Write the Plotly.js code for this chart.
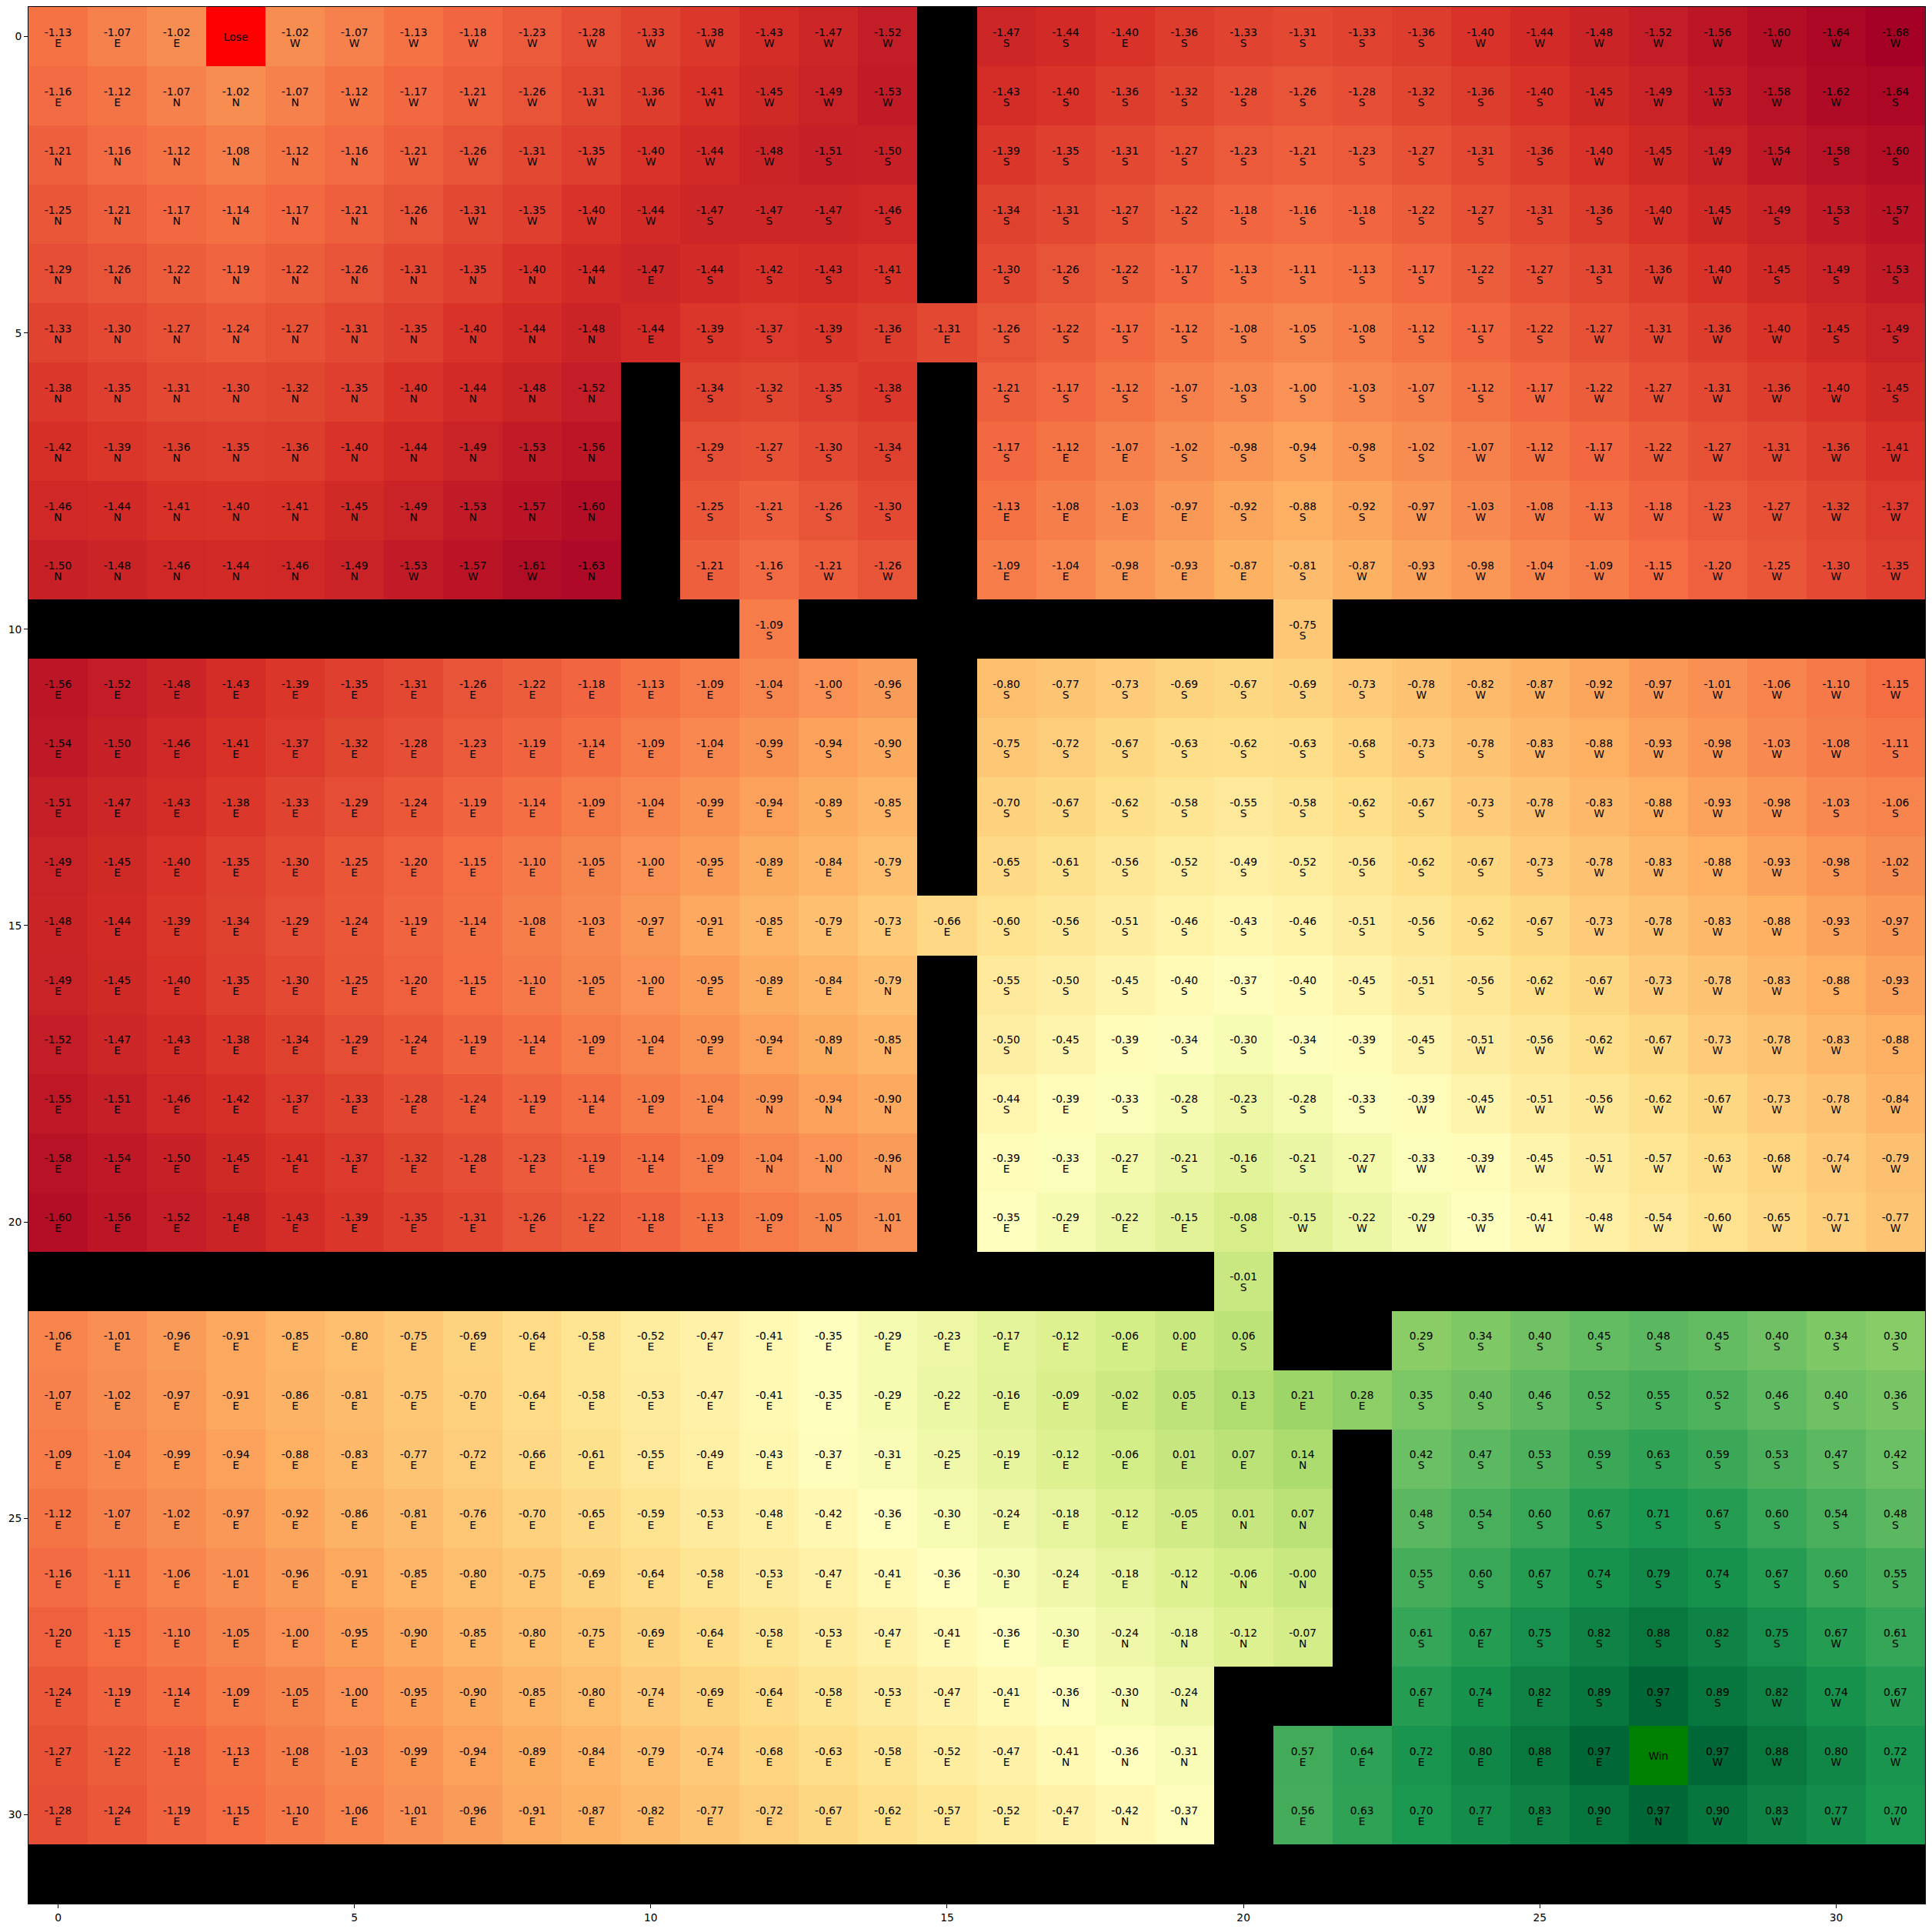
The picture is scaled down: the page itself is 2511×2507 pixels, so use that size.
<!DOCTYPE html>
<html>
<head>
<meta charset="utf-8">
<script src="https://cdn.plot.ly/plotly-3.0.1.min.js"></script>
<style>
  html, body { margin: 0; padding: 0; background: #ffffff; }
  #chart { width: 2511px; height: 2507px; }
</style>
</head>
<body>
<div id="chart"></div>
<script>
const _ = null;

// State values (row by row, 32 rows x 32 columns); null = wall or special cell
const values = [
  [-1.13,-1.07,-1.02,_,-1.02,-1.07,-1.13,-1.18,-1.23,-1.28,-1.33,-1.38,-1.43,-1.47,-1.52,_,-1.47,-1.44,-1.40,-1.36,-1.33,-1.31,-1.33,-1.36,-1.40,-1.44,-1.48,-1.52,-1.56,-1.60,-1.64,-1.68],
  [-1.16,-1.12,-1.07,-1.02,-1.07,-1.12,-1.17,-1.21,-1.26,-1.31,-1.36,-1.41,-1.45,-1.49,-1.53,_,-1.43,-1.40,-1.36,-1.32,-1.28,-1.26,-1.28,-1.32,-1.36,-1.40,-1.45,-1.49,-1.53,-1.58,-1.62,-1.64],
  [-1.21,-1.16,-1.12,-1.08,-1.12,-1.16,-1.21,-1.26,-1.31,-1.35,-1.40,-1.44,-1.48,-1.51,-1.50,_,-1.39,-1.35,-1.31,-1.27,-1.23,-1.21,-1.23,-1.27,-1.31,-1.36,-1.40,-1.45,-1.49,-1.54,-1.58,-1.60],
  [-1.25,-1.21,-1.17,-1.14,-1.17,-1.21,-1.26,-1.31,-1.35,-1.40,-1.44,-1.47,-1.47,-1.47,-1.46,_,-1.34,-1.31,-1.27,-1.22,-1.18,-1.16,-1.18,-1.22,-1.27,-1.31,-1.36,-1.40,-1.45,-1.49,-1.53,-1.57],
  [-1.29,-1.26,-1.22,-1.19,-1.22,-1.26,-1.31,-1.35,-1.40,-1.44,-1.47,-1.44,-1.42,-1.43,-1.41,_,-1.30,-1.26,-1.22,-1.17,-1.13,-1.11,-1.13,-1.17,-1.22,-1.27,-1.31,-1.36,-1.40,-1.45,-1.49,-1.53],
  [-1.33,-1.30,-1.27,-1.24,-1.27,-1.31,-1.35,-1.40,-1.44,-1.48,-1.44,-1.39,-1.37,-1.39,-1.36,-1.31,-1.26,-1.22,-1.17,-1.12,-1.08,-1.05,-1.08,-1.12,-1.17,-1.22,-1.27,-1.31,-1.36,-1.40,-1.45,-1.49],
  [-1.38,-1.35,-1.31,-1.30,-1.32,-1.35,-1.40,-1.44,-1.48,-1.52,_,-1.34,-1.32,-1.35,-1.38,_,-1.21,-1.17,-1.12,-1.07,-1.03,-1.00,-1.03,-1.07,-1.12,-1.17,-1.22,-1.27,-1.31,-1.36,-1.40,-1.45],
  [-1.42,-1.39,-1.36,-1.35,-1.36,-1.40,-1.44,-1.49,-1.53,-1.56,_,-1.29,-1.27,-1.30,-1.34,_,-1.17,-1.12,-1.07,-1.02,-0.98,-0.94,-0.98,-1.02,-1.07,-1.12,-1.17,-1.22,-1.27,-1.31,-1.36,-1.41],
  [-1.46,-1.44,-1.41,-1.40,-1.41,-1.45,-1.49,-1.53,-1.57,-1.60,_,-1.25,-1.21,-1.26,-1.30,_,-1.13,-1.08,-1.03,-0.97,-0.92,-0.88,-0.92,-0.97,-1.03,-1.08,-1.13,-1.18,-1.23,-1.27,-1.32,-1.37],
  [-1.50,-1.48,-1.46,-1.44,-1.46,-1.49,-1.53,-1.57,-1.61,-1.63,_,-1.21,-1.16,-1.21,-1.26,_,-1.09,-1.04,-0.98,-0.93,-0.87,-0.81,-0.87,-0.93,-0.98,-1.04,-1.09,-1.15,-1.20,-1.25,-1.30,-1.35],
  [_,_,_,_,_,_,_,_,_,_,_,_,-1.09,_,_,_,_,_,_,_,_,-0.75,_,_,_,_,_,_,_,_,_,_],
  [-1.56,-1.52,-1.48,-1.43,-1.39,-1.35,-1.31,-1.26,-1.22,-1.18,-1.13,-1.09,-1.04,-1.00,-0.96,_,-0.80,-0.77,-0.73,-0.69,-0.67,-0.69,-0.73,-0.78,-0.82,-0.87,-0.92,-0.97,-1.01,-1.06,-1.10,-1.15],
  [-1.54,-1.50,-1.46,-1.41,-1.37,-1.32,-1.28,-1.23,-1.19,-1.14,-1.09,-1.04,-0.99,-0.94,-0.90,_,-0.75,-0.72,-0.67,-0.63,-0.62,-0.63,-0.68,-0.73,-0.78,-0.83,-0.88,-0.93,-0.98,-1.03,-1.08,-1.11],
  [-1.51,-1.47,-1.43,-1.38,-1.33,-1.29,-1.24,-1.19,-1.14,-1.09,-1.04,-0.99,-0.94,-0.89,-0.85,_,-0.70,-0.67,-0.62,-0.58,-0.55,-0.58,-0.62,-0.67,-0.73,-0.78,-0.83,-0.88,-0.93,-0.98,-1.03,-1.06],
  [-1.49,-1.45,-1.40,-1.35,-1.30,-1.25,-1.20,-1.15,-1.10,-1.05,-1.00,-0.95,-0.89,-0.84,-0.79,_,-0.65,-0.61,-0.56,-0.52,-0.49,-0.52,-0.56,-0.62,-0.67,-0.73,-0.78,-0.83,-0.88,-0.93,-0.98,-1.02],
  [-1.48,-1.44,-1.39,-1.34,-1.29,-1.24,-1.19,-1.14,-1.08,-1.03,-0.97,-0.91,-0.85,-0.79,-0.73,-0.66,-0.60,-0.56,-0.51,-0.46,-0.43,-0.46,-0.51,-0.56,-0.62,-0.67,-0.73,-0.78,-0.83,-0.88,-0.93,-0.97],
  [-1.49,-1.45,-1.40,-1.35,-1.30,-1.25,-1.20,-1.15,-1.10,-1.05,-1.00,-0.95,-0.89,-0.84,-0.79,_,-0.55,-0.50,-0.45,-0.40,-0.37,-0.40,-0.45,-0.51,-0.56,-0.62,-0.67,-0.73,-0.78,-0.83,-0.88,-0.93],
  [-1.52,-1.47,-1.43,-1.38,-1.34,-1.29,-1.24,-1.19,-1.14,-1.09,-1.04,-0.99,-0.94,-0.89,-0.85,_,-0.50,-0.45,-0.39,-0.34,-0.30,-0.34,-0.39,-0.45,-0.51,-0.56,-0.62,-0.67,-0.73,-0.78,-0.83,-0.88],
  [-1.55,-1.51,-1.46,-1.42,-1.37,-1.33,-1.28,-1.24,-1.19,-1.14,-1.09,-1.04,-0.99,-0.94,-0.90,_,-0.44,-0.39,-0.33,-0.28,-0.23,-0.28,-0.33,-0.39,-0.45,-0.51,-0.56,-0.62,-0.67,-0.73,-0.78,-0.84],
  [-1.58,-1.54,-1.50,-1.45,-1.41,-1.37,-1.32,-1.28,-1.23,-1.19,-1.14,-1.09,-1.04,-1.00,-0.96,_,-0.39,-0.33,-0.27,-0.21,-0.16,-0.21,-0.27,-0.33,-0.39,-0.45,-0.51,-0.57,-0.63,-0.68,-0.74,-0.79],
  [-1.60,-1.56,-1.52,-1.48,-1.43,-1.39,-1.35,-1.31,-1.26,-1.22,-1.18,-1.13,-1.09,-1.05,-1.01,_,-0.35,-0.29,-0.22,-0.15,-0.08,-0.15,-0.22,-0.29,-0.35,-0.41,-0.48,-0.54,-0.60,-0.65,-0.71,-0.77],
  [_,_,_,_,_,_,_,_,_,_,_,_,_,_,_,_,_,_,_,_,-0.01,_,_,_,_,_,_,_,_,_,_,_],
  [-1.06,-1.01,-0.96,-0.91,-0.85,-0.80,-0.75,-0.69,-0.64,-0.58,-0.52,-0.47,-0.41,-0.35,-0.29,-0.23,-0.17,-0.12,-0.06,0.00,0.06,_,_,0.29,0.34,0.40,0.45,0.48,0.45,0.40,0.34,0.30],
  [-1.07,-1.02,-0.97,-0.91,-0.86,-0.81,-0.75,-0.70,-0.64,-0.58,-0.53,-0.47,-0.41,-0.35,-0.29,-0.22,-0.16,-0.09,-0.02,0.05,0.13,0.21,0.28,0.35,0.40,0.46,0.52,0.55,0.52,0.46,0.40,0.36],
  [-1.09,-1.04,-0.99,-0.94,-0.88,-0.83,-0.77,-0.72,-0.66,-0.61,-0.55,-0.49,-0.43,-0.37,-0.31,-0.25,-0.19,-0.12,-0.06,0.01,0.07,0.14,_,0.42,0.47,0.53,0.59,0.63,0.59,0.53,0.47,0.42],
  [-1.12,-1.07,-1.02,-0.97,-0.92,-0.86,-0.81,-0.76,-0.70,-0.65,-0.59,-0.53,-0.48,-0.42,-0.36,-0.30,-0.24,-0.18,-0.12,-0.05,0.01,0.07,_,0.48,0.54,0.60,0.67,0.71,0.67,0.60,0.54,0.48],
  [-1.16,-1.11,-1.06,-1.01,-0.96,-0.91,-0.85,-0.80,-0.75,-0.69,-0.64,-0.58,-0.53,-0.47,-0.41,-0.36,-0.30,-0.24,-0.18,-0.12,-0.06,-0.00,_,0.55,0.60,0.67,0.74,0.79,0.74,0.67,0.60,0.55],
  [-1.20,-1.15,-1.10,-1.05,-1.00,-0.95,-0.90,-0.85,-0.80,-0.75,-0.69,-0.64,-0.58,-0.53,-0.47,-0.41,-0.36,-0.30,-0.24,-0.18,-0.12,-0.07,_,0.61,0.67,0.75,0.82,0.88,0.82,0.75,0.67,0.61],
  [-1.24,-1.19,-1.14,-1.09,-1.05,-1.00,-0.95,-0.90,-0.85,-0.80,-0.74,-0.69,-0.64,-0.58,-0.53,-0.47,-0.41,-0.36,-0.30,-0.24,_,_,_,0.67,0.74,0.82,0.89,0.97,0.89,0.82,0.74,0.67],
  [-1.27,-1.22,-1.18,-1.13,-1.08,-1.03,-0.99,-0.94,-0.89,-0.84,-0.79,-0.74,-0.68,-0.63,-0.58,-0.52,-0.47,-0.41,-0.36,-0.31,_,0.57,0.64,0.72,0.80,0.88,0.97,_,0.97,0.88,0.80,0.72],
  [-1.28,-1.24,-1.19,-1.15,-1.10,-1.06,-1.01,-0.96,-0.91,-0.87,-0.82,-0.77,-0.72,-0.67,-0.62,-0.57,-0.52,-0.47,-0.42,-0.37,_,0.56,0.63,0.70,0.77,0.83,0.90,0.97,0.90,0.83,0.77,0.70],
  [_,_,_,_,_,_,_,_,_,_,_,_,_,_,_,_,_,_,_,_,_,_,_,_,_,_,_,_,_,_,_,_]
];

// Greedy policy per cell: N/S/E/W, '#' = wall, '*' = terminal cell
const policy = [
  "EEE*WWWWWWWWWWW#SSESSSSSWWWWWWWW",
  "EENNNWWWWWWWWWW#SSSSSSSSSSWWWWWS",
  "NNNNNNWWWWWWWSS#SSSSSSSSSSWWWWSS",
  "NNNNNNNWWWWSSSS#SSSSSSSSSSSWWSSS",
  "NNNNNNNNNNESSSS#SSSSSSSSSSSWWSSS",
  "NNNNNNNNNNESSSEESSSSSSSSSSWWWWSS",
  "NNNNNNNNNN#SSSS#SSSSSSSSSWWWWWWS",
  "NNNNNNNNNN#SSSS#SEESSSSSWWWWWWWW",
  "NNNNNNNNNN#SSSS#EEEESSSWWWWWWWWW",
  "NNNNNNWWWN#ESWW#EEEEESWWWWWWWWWW",
  "############S########S##########",
  "EEEEEEEEEEEESSS#SSSSSSSWWWWWWWWW",
  "EEEEEEEEEEEESSS#SSSSSSSSSWWWWWWS",
  "EEEEEEEEEEEEESS#SSSSSSSSSWWWWWSS",
  "EEEEEEEEEEEEEES#SSSSSSSSSSWWWWSS",
  "EEEEEEEEEEEEEEEESSSSSSSSSSWWWWSS",
  "EEEEEEEEEEEEEEN#SSSSSSSSSWWWWWSS",
  "EEEEEEEEEEEEENN#SSSSSSSSWWWWWWWS",
  "EEEEEEEEEEEENNN#SESSSSSWWWWWWWWW",
  "EEEEEEEEEEEENNN#EEESSSWWWWWWWWWW",
  "EEEEEEEEEEEEENN#EEEESWWWWWWWWWWW",
  "####################S###########",
  "EEEEEEEEEEEEEEEEEEEES##SSSSSSSSS",
  "EEEEEEEEEEEEEEEEEEEEEEESSSSSSSSS",
  "EEEEEEEEEEEEEEEEEEEEEN#SSSSSSSSS",
  "EEEEEEEEEEEEEEEEEEEENN#SSSSSSSSS",
  "EEEEEEEEEEEEEEEEEEENNN#SSSSSSSSS",
  "EEEEEEEEEEEEEEEEEENNNN#SESSSSSWS",
  "EEEEEEEEEEEEEEEEENNN###EEESSSWWW",
  "EEEEEEEEEEEEEEEEENNN#EEEEEE*WWWW",
  "EEEEEEEEEEEEEEEEEENN#EEEEEENWWWW",
  "################################"
];

// Terminal cells
const specialRows   = [0, 29];
const specialCols   = [3, 27];
const specialLabels = ["Lose", "Win"];
const specialKinds  = [0, 1];   // 0 = lose colour, 1 = win colour

const xTicks = [0, 5, 10, 15, 20, 25, 30];
const yTicks = [0, 5, 10, 15, 20, 25, 30];

// ---- sanity checks
values.forEach((r, i) => { if (r.length !== 32) throw new Error("values row " + i + " has " + r.length); });
policy.forEach((r, i) => { if (r.length !== 32) throw new Error("policy row " + i + " has " + r.length); });

const nRows = values.length, nCols = values[0].length;
const colIdx = Array.from({length: nCols}, (_v, i) => i);
const rowIdx = Array.from({length: nRows}, (_v, i) => i);

const fmt = v => (Object.is(v, -0) ? "-0.00" : v.toFixed(2));

const vx = [], vy = [], vt = [], lx = [], ly = [], lt = [];
const VALUE_DY = -0.055, LETTER_DY = 0.127;
for (let r = 0; r < nRows; r++) {
  for (let c = 0; c < nCols; c++) {
    const v = values[r][c];
    if (v === null) continue;
    vx.push(c); vy.push(r + VALUE_DY); vt.push(fmt(v));
    lx.push(c); ly.push(r + LETTER_DY); lt.push(policy[r][c]);
  }
}

const specialZ = rowIdx.map(() => colIdx.map(() => null));
specialRows.forEach((r, i) => { specialZ[r][specialCols[i]] = specialKinds[i]; });

const rdylgn = [
  [0.0, '#a50026'], [0.1, '#d73027'], [0.2, '#f46d43'], [0.3, '#fdae61'],
  [0.4, '#fee08b'], [0.5, '#ffffbf'], [0.6, '#d9ef8b'], [0.7, '#a6d96a'],
  [0.8, '#66bd63'], [0.9, '#1a9850'], [1.0, '#006837']
];

const flat = values.flat().filter(v => v !== null);
const zmin = Math.min(...flat), zmax = Math.max(...flat);

const FONT = 'DejaVu Sans, Liberation Sans, sans-serif';
const textFont = {family: FONT, size: 13.8, color: '#000000'};

const traces = [
  {
    type: 'heatmap', x: colIdx, y: rowIdx, z: values,
    colorscale: rdylgn, zmin: zmin, zmax: zmax, showscale: false,
    hoverinfo: 'skip', zsmooth: false
  },
  {
    type: 'heatmap', x: colIdx, y: rowIdx, z: specialZ,
    colorscale: [[0, '#ff0000'], [1, '#008000']], zmin: 0, zmax: 1,
    showscale: false, hoverinfo: 'skip', zsmooth: false
  },
  {
    type: 'scatter', mode: 'text', x: vx, y: vy, text: vt,
    textposition: 'middle center', textfont: textFont,
    hoverinfo: 'skip', showlegend: false, cliponaxis: false
  },
  {
    type: 'scatter', mode: 'text', x: lx, y: ly, text: lt,
    textposition: 'middle center', textfont: textFont,
    hoverinfo: 'skip', showlegend: false, cliponaxis: false
  },
  {
    type: 'scatter', mode: 'text', x: specialCols, y: specialRows.map(r => r + 0.033),
    text: specialLabels, textposition: 'middle center', textfont: textFont,
    hoverinfo: 'skip', showlegend: false
  }
];

const axisCommon = {
  showgrid: false, zeroline: false,
  showline: true, mirror: true, linecolor: '#000000', linewidth: 1,
  ticks: 'outside', ticklen: 5, tickwidth: 1, tickcolor: '#000000',
  tickfont: {family: FONT, size: 13.8, color: '#000000'},
  fixedrange: true
};

const layout = {
  width: 2511, height: 2507,
  margin: {l: 37, r: 9, t: 9, b: 33, pad: 0},
  paper_bgcolor: '#ffffff', plot_bgcolor: '#000000',
  showlegend: false,
  xaxis: Object.assign({}, axisCommon, {
    range: [-0.5, nCols - 0.5], tickmode: 'array', tickvals: xTicks, ticktext: xTicks.map(String)
  }),
  yaxis: Object.assign({}, axisCommon, {
    range: [nRows - 0.5, -0.5], tickmode: 'array', tickvals: yTicks, ticktext: yTicks.map(String)
  })
};

Plotly.newPlot('chart', traces, layout, {displayModeBar: false, staticPlot: true});
</script>
</body>
</html>
